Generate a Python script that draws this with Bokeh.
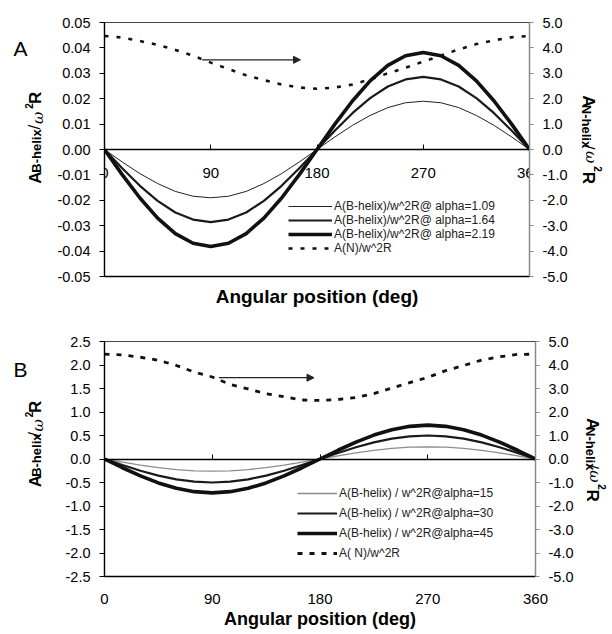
import math
from bokeh.plotting import figure
from bokeh.models import (Range1d, LinearAxis, FixedTicker, PrintfTickFormatter, Label,
                          Legend, LegendItem, Arrow, NormalHead, CustomJSTickFormatter)
from bokeh.layouts import column, row
from bokeh.embed import file_html
from bokeh.resources import INLINE

# ---------------- data ----------------
angle_deg = [0, 15, 30, 45, 60, 75, 90, 105, 120, 135, 150, 165, 180,
             195, 210, 225, 240, 255, 270, 285, 300, 315, 330, 345, 360]

# Panel A (left axis)
a_alpha_109 = [0.0, -0.0049, -0.0095, -0.0134, -0.0165, -0.0184, -0.0190, -0.0184, -0.0165, -0.0134, -0.0095, -0.0049, 0.0,
               0.0049, 0.0095, 0.0134, 0.0165, 0.0184, 0.0190, 0.0184, 0.0165, 0.0134, 0.0095, 0.0049, 0.0]
a_alpha_164 = [0.0, -0.0074, -0.0143, -0.0202, -0.0248, -0.0276, -0.0286, -0.0276, -0.0248, -0.0202, -0.0143, -0.0074, 0.0,
               0.0074, 0.0143, 0.0202, 0.0248, 0.0276, 0.0286, 0.0276, 0.0248, 0.0202, 0.0143, 0.0074, 0.0]
a_alpha_219 = [0.0, -0.0099, -0.0191, -0.0270, -0.0331, -0.0369, -0.0382, -0.0369, -0.0331, -0.0270, -0.0191, -0.0099, 0.0,
               0.0099, 0.0191, 0.0270, 0.0331, 0.0369, 0.0382, 0.0369, 0.0331, 0.0270, 0.0191, 0.0099, 0.0]
# Panel A (right axis)
a_n_helix = [4.47, 4.41, 4.27, 4.12, 3.92, 3.69, 3.42, 3.17, 2.92, 2.73, 2.56, 2.44, 2.39,
             2.44, 2.56, 2.76, 3.00, 3.22, 3.46, 3.70, 3.94, 4.15, 4.30, 4.42, 4.47]

# Panel B (left axis)
b_alpha_15 = [0.0, -0.067, -0.130, -0.184, -0.225, -0.251, -0.260, -0.251, -0.225, -0.184, -0.130, -0.067, 0.0,
              0.067, 0.130, 0.184, 0.225, 0.251, 0.260, 0.251, 0.225, 0.184, 0.130, 0.067, 0.0]
b_alpha_30 = [0.0, -0.129, -0.250, -0.354, -0.433, -0.483, -0.500, -0.483, -0.433, -0.354, -0.250, -0.129, 0.0,
              0.129, 0.250, 0.354, 0.433, 0.483, 0.500, 0.483, 0.433, 0.354, 0.250, 0.129, 0.0]
b_alpha_45 = [0.0, -0.186, -0.360, -0.509, -0.624, -0.695, -0.720, -0.695, -0.624, -0.509, -0.360, -0.186, 0.0,
              0.186, 0.360, 0.509, 0.624, 0.695, 0.720, 0.695, 0.624, 0.509, 0.360, 0.186, 0.0]
# Panel B (right axis)
b_n_helix = [4.46, 4.43, 4.33, 4.20, 3.98, 3.70, 3.49, 3.17, 2.98, 2.78, 2.65, 2.51, 2.49,
             2.53, 2.62, 2.78, 3.02, 3.25, 3.47, 3.76, 3.98, 4.21, 4.35, 4.45, 4.46]

legend_a = ["A(B-helix)/w^2R@ alpha=1.09", "A(B-helix)/w^2R@ alpha=1.64",
            "A(B-helix)/w^2R@ alpha=2.19", "A(N)/w^2R"]
legend_b = ["A(B-helix) / w^2R@alpha=15", "A(B-helix) / w^2R@alpha=30",
            "A(B-helix) / w^2R@alpha=45", "A( N)/w^2R"]

x_ticks = [0, 90, 180, 270, 360]
a_left_ticks = [-0.05, -0.04, -0.03, -0.02, -0.01, 0.0, 0.01, 0.02, 0.03, 0.04, 0.05]
b_left_ticks = [-2.5, -2.0, -1.5, -1.0, -0.5, 0.0, 0.5, 1.0, 1.5, 2.0, 2.5]
right_ticks = [-5, -4, -3, -2, -1, 0, 1, 2, 3, 4, 5]

arrow_a_x = [82.7, 166.0]
arrow_a_y = 0.0353
arrow_b_x = [95.5, 175.0]
arrow_b_y = 1.73

FONT = "Liberation Sans"
LEFT_W = 53
MAIN_W = 527
RIGHT_W = 32
H_A = 318
H_B = 316


def base_fig(height, left, right, top, bottom, yr):
    p = figure(width=MAIN_W, height=height, x_range=Range1d(0, 360), y_range=Range1d(*yr),
               output_backend="svg", toolbar_location=None, title=None)
    p.min_border_left = left
    p.min_border_right = right
    p.min_border_top = top
    p.min_border_bottom = bottom
    p.xgrid.grid_line_color = None
    p.ygrid.grid_line_color = None
    p.background_fill_color = "white"
    p.border_fill_color = "white"
    p.outline_line_color = "#444444"
    p.outline_line_width = 1.2
    p.extra_y_ranges = {"right": Range1d(-5, 5)}
    return p


def side_fig(width, height):
    s = figure(width=width, height=height, x_range=Range1d(0, width), y_range=Range1d(height, 0),
               x_axis_location=None, y_axis_location=None, output_backend="svg",
               toolbar_location=None, title=None, min_border=0)
    s.grid.visible = False
    s.outline_line_color = None
    s.background_fill_color = "white"
    s.border_fill_color = "white"
    return s


def style_left(p, ticks, fmt):
    ax = p.yaxis[0]
    ax.ticker = FixedTicker(ticks=ticks)
    ax.formatter = PrintfTickFormatter(format=fmt)
    ax.major_tick_out = 5
    ax.major_tick_in = 0
    ax.minor_tick_line_color = None
    ax.axis_line_color = "black"
    ax.axis_line_width = 1.3
    ax.major_tick_line_color = "black"
    ax.major_label_standoff = 9
    ax.major_label_text_font = FONT
    ax.major_label_text_font_size = "14.5px"
    ax.major_label_text_color = "black"


def add_right(p, baseline):
    ax = LinearAxis(y_range_name="right", ticker=FixedTicker(ticks=right_ticks),
                    formatter=PrintfTickFormatter(format="%.1f"))
    ax.axis_line_color = "#8a8a8a"
    ax.axis_line_width = 1.2
    ax.major_tick_line_color = "#8a8a8a"
    ax.major_tick_out = 4
    ax.major_tick_in = 0
    ax.minor_tick_line_color = None
    ax.major_label_standoff = 9
    ax.major_label_text_font = FONT
    ax.major_label_text_font_size = "14.5px"
    ax.major_label_text_color = "black"
    ax.major_label_text_baseline = baseline
    p.add_layout(ax, "right")


def add_pieces(s, pieces, angle):
    for txt, xs, ys, size, style, font in pieces:
        s.add_layout(Label(x=xs, y=ys, text=txt, angle=angle, text_align="left",
                           text_baseline="alphabetic", text_font=font, text_font_size=size,
                           text_font_style=style, text_color="black"))


def left_title(dy):
    return [("A", 34.5, 202 + dy, "17px", "bold", FONT),
            ("B-helix", 36, 188 + dy, "13px", "bold", FONT),
            ("/", 34, 134 + dy, "17px", "normal", FONT),
            ("\u03c9", 37, 127 + dy, "15px", "italic", "DejaVu Serif"),
            ("2", 28, 108 + dy, "10px", "bold", FONT),
            ("R", 34.5, 102 + dy, "17px", "bold", FONT)]


def right_title(dx, dy):
    return [("A", 5 + dx, 91 + dy, "17px", "bold", FONT),
            ("N-helix", 3 + dx, 103 + dy, "13px", "bold", FONT),
            ("/", 5 + dx, 153 + dy, "17px", "normal", FONT),
            ("\u03c9", 7 + dx, 161 + dy, "15px", "italic", "DejaVu Serif"),
            ("2", 14 + dx, 180 + dy, "10px", "bold", FONT),
            ("R", 5 + dx, 187 + dy, "17px", "bold", FONT)]


def add_legend(p, items, loc, row_h, glyph_w):
    lg = Legend(items=items, location=loc, orientation="vertical",
                background_fill_alpha=0, border_line_color=None, padding=0, margin=0,
                spacing=0, label_height=row_h, glyph_height=row_h, glyph_width=glyph_w,
                label_standoff=2, label_text_font=FONT, label_text_font_size="12px",
                label_text_color="#222222")
    p.add_layout(lg)


# ---------------- Panel A ----------------
pA = base_fig(H_A, 51, 51, 22, 42, (-0.05, 0.05))
style_left(pA, a_left_ticks, "%.2f")
add_right(pA, "top")

bx = pA.xaxis[0]
bx.ticker = FixedTicker(ticks=[])
bx.axis_line_color = "black"
bx.axis_line_width = 1.3
bx.minor_tick_line_color = None
bx.axis_label = "Angular position (deg)"
bx.axis_label_text_font = FONT
bx.axis_label_text_font_style = "bold"
bx.axis_label_text_font_size = "19px"
bx.axis_label_text_color = "black"
bx.axis_label_standoff = 9

zx = LinearAxis(fixed_location=0, ticker=FixedTicker(ticks=x_ticks))
zx.major_tick_in = 5
zx.major_tick_out = 0
zx.minor_tick_line_color = None
zx.axis_line_color = "black"
zx.axis_line_width = 1.4
zx.major_label_standoff = 18
zx.major_label_text_font = FONT
zx.major_label_text_font_size = "15px"
zx.major_label_text_color = "black"
pA.add_layout(zx, "below")

rA1 = pA.line(angle_deg, a_alpha_109, line_color="#222222", line_width=1.0)
rA2 = pA.line(angle_deg, a_alpha_164, line_color="#1a1a1a", line_width=2.2)
rA3 = pA.line(angle_deg, a_alpha_219, line_color="#111111", line_width=3.6)
rA4 = pA.line(angle_deg, a_n_helix, y_range_name="right", line_color="#111111",
              line_width=2.6, line_dash="4 8")

pA.add_layout(Arrow(x_start=arrow_a_x[0], y_start=arrow_a_y, x_end=arrow_a_x[1], y_end=arrow_a_y,
                    line_color="#222222", line_width=1.3,
                    end=NormalHead(size=7, fill_color="#222222", line_color="#222222")))

add_legend(pA, [LegendItem(label=legend_a[i], renderers=[r]) for i, r in enumerate([rA1, rA2, rA3, rA4])],
           (184, 21), 14, 44)

lA = side_fig(LEFT_W, H_A)
add_pieces(lA, left_title(0), math.pi / 2)
lA.add_layout(Label(x=13, y=33, text="A", text_font=FONT, text_font_size="21px",
                    text_color="black", text_align="left", text_baseline="alphabetic"))
rA = side_fig(RIGHT_W, H_A)
add_pieces(rA, right_title(3, 0), -math.pi / 2)

# ---------------- Panel B ----------------
pB = base_fig(H_B, 51, 45, 23, 58, (-2.5, 2.5))
style_left(pB, b_left_ticks, "%.1f")
add_right(pB, "middle")

bxB = pB.xaxis[0]
bxB.ticker = FixedTicker(ticks=x_ticks)
bxB.major_tick_in = 0
bxB.major_tick_out = 0
bxB.minor_tick_line_color = None
bxB.axis_line_color = "black"
bxB.axis_line_width = 1.3
bxB.major_label_standoff = 17
bxB.major_label_text_font = FONT
bxB.major_label_text_font_size = "15px"
bxB.major_label_text_color = "black"
bxB.axis_label = "Angular position (deg)"
bxB.axis_label_text_font = FONT
bxB.axis_label_text_font_style = "bold"
bxB.axis_label_text_font_size = "18px"
bxB.axis_label_text_color = "black"
bxB.axis_label_standoff = 2

zxB = LinearAxis(fixed_location=0, ticker=FixedTicker(ticks=[90, 180, 270]),
                 formatter=CustomJSTickFormatter(code="return ''"))
zxB.major_tick_in = 5
zxB.major_tick_out = 0
zxB.minor_tick_line_color = None
zxB.axis_line_color = "black"
zxB.axis_line_width = 1.4
pB.add_layout(zxB, "below")

rB1 = pB.line(angle_deg, b_alpha_15, line_color="#8c8c8c", line_width=1.3)
rB2 = pB.line(angle_deg, b_alpha_30, line_color="#1a1a1a", line_width=2.2)
rB3 = pB.line(angle_deg, b_alpha_45, line_color="#111111", line_width=3.6)
rB4 = pB.line(angle_deg, b_n_helix, y_range_name="right", line_color="#111111",
              line_width=2.8, line_dash="5 7")

pB.add_layout(Arrow(x_start=arrow_b_x[0], y_start=arrow_b_y, x_end=arrow_b_x[1], y_end=arrow_b_y,
                    line_color="#222222", line_width=1.3,
                    end=NormalHead(size=7, fill_color="#222222", line_color="#222222")))

add_legend(pB, [LegendItem(label=legend_b[i], renderers=[r]) for i, r in enumerate([rB1, rB2, rB3, rB4])],
           (193, 13), 20, 40)

lB = side_fig(LEFT_W, H_B)
add_pieces(lB, left_title(-6), math.pi / 2)
lB.add_layout(Label(x=13, y=37, text="B", text_font=FONT, text_font_size="21px",
                    text_color="black", text_align="left", text_baseline="alphabetic"))
rBs = side_fig(RIGHT_W, H_B)
add_pieces(rBs, right_title(7, 12), -math.pi / 2)

layout = column(row(lA, pA, rA), row(lB, pB, rBs))
open("out.html", "w").write(file_html(layout, INLINE))
